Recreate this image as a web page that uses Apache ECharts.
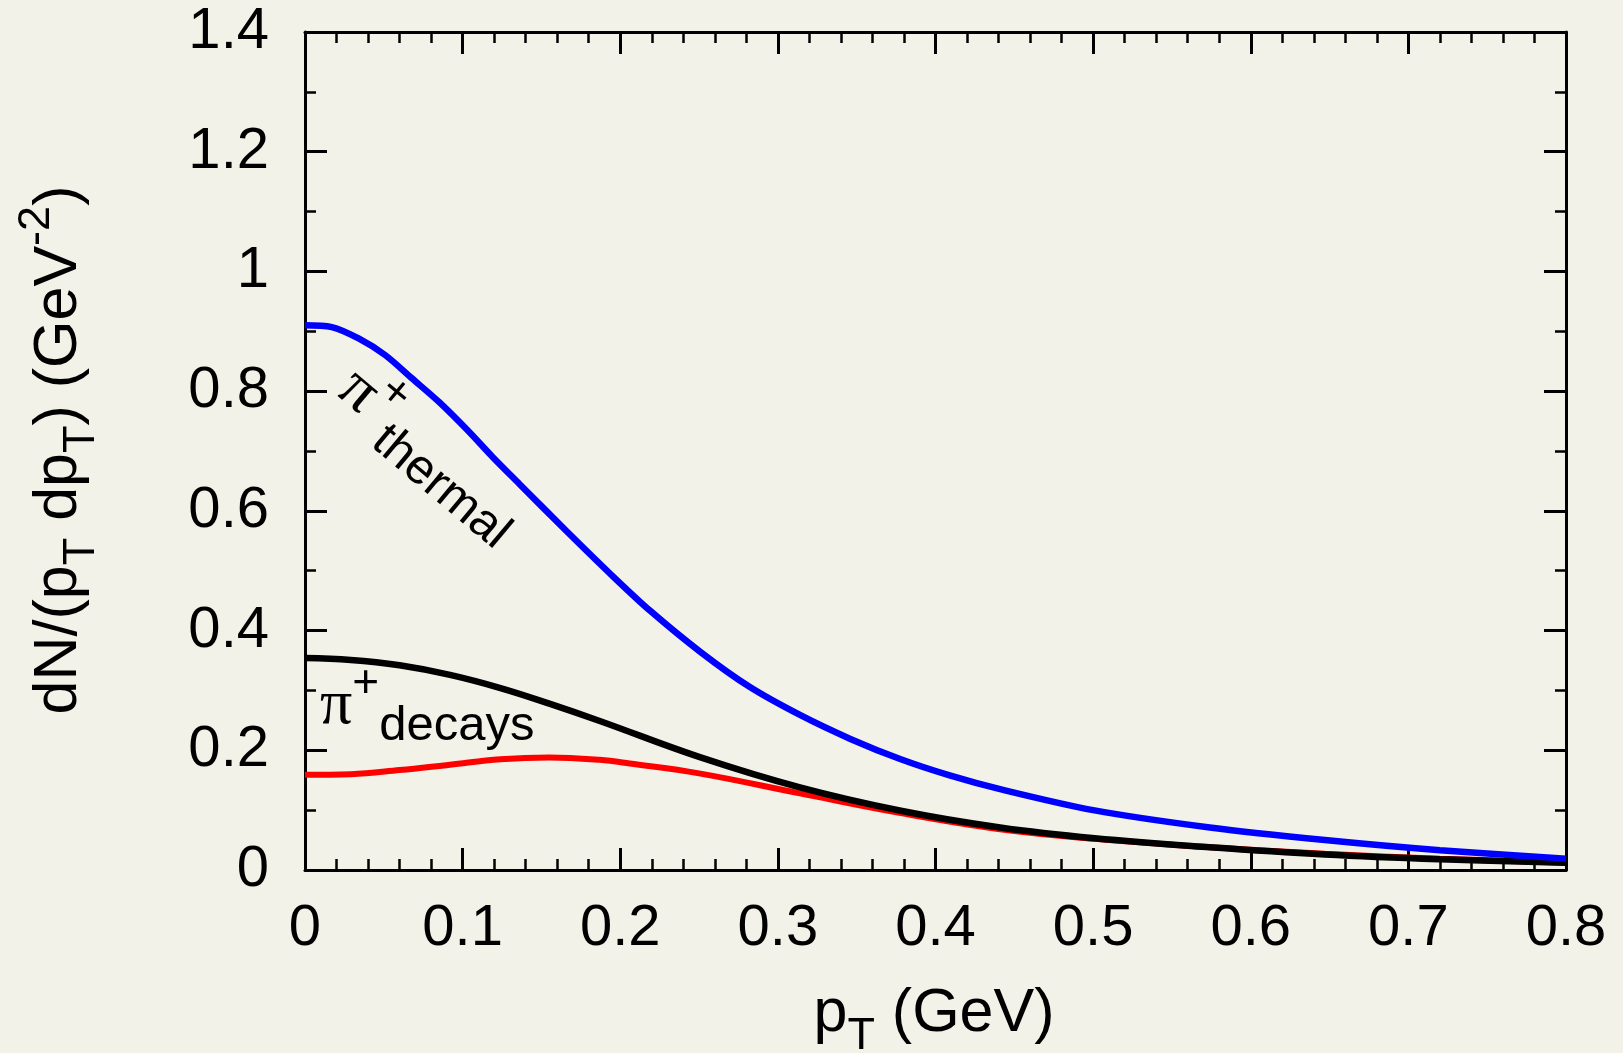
<!DOCTYPE html>
<html>
<head>
<meta charset="utf-8">
<title>pT spectra</title>
<script src="https://cdn.jsdelivr.net/npm/echarts@6/dist/echarts.min.js"></script>
<style>
  html, body { margin: 0; padding: 0; background: #f2f2e8; }
  #chart { width: 1623px; height: 1053px; }
</style>
</head>
<body>
<div id="chart"></div>
<script>
// pT (GeV) and dN/(pT dpT)
const thermalPt = [0, 0.017, 0.034, 0.051, 0.068, 0.085, 0.103, 0.119, 0.136, 0.166, 0.196, 0.219, 0.251, 0.282, 0.314, 0.346, 0.378, 0.409, 0.441, 0.50, 0.574, 0.647, 0.72, 0.8]
const thermalY = [0.910, 0.907, 0.888, 0.860, 0.821, 0.782, 0.735, 0.690, 0.645, 0.566, 0.489, 0.433, 0.364, 0.306, 0.259, 0.219, 0.185, 0.158, 0.135, 0.100, 0.071, 0.050, 0.033, 0.019]

const decaysPt = [0, 0.029, 0.06, 0.092, 0.124, 0.155, 0.187, 0.25, 0.314, 0.378, 0.441, 0.501, 0.574, 0.647, 0.72, 0.8]
const decaysY = [0.354, 0.351, 0.342, 0.326, 0.304, 0.278, 0.249, 0.189, 0.138, 0.099, 0.071, 0.053, 0.038, 0.026, 0.018, 0.012]

const redPt = [0, 0.029, 0.06, 0.092, 0.124, 0.155, 0.187, 0.206, 0.25, 0.314, 0.378, 0.441, 0.501, 0.574, 0.647, 0.72, 0.8]
const redY = [0.159, 0.160, 0.167, 0.176, 0.185, 0.188, 0.184, 0.178, 0.1615, 0.128, 0.095, 0.068, 0.052, 0.038, 0.027, 0.019, 0.012]

const xTicks = { min: 0, max: 0.8, step: 0.1 }
const yTicks = { min: 0, max: 1.4, step: 0.2 }

const pairs = (xs, ys) => xs.map((x, i) => [x, ys[i]])
const fmt = v => String(Math.round(v * 10) / 10)

const FONT = "'Liberation Sans', Arial, Helvetica, sans-serif"
const SERIF = "'Liberation Serif', 'Times New Roman', serif"

const chart = echarts.init(document.getElementById('chart'), null, { renderer: 'canvas' })

const axisBase = {
    type: 'value',
    splitLine: { show: false },
    axisLine: { show: true, onZero: false, lineStyle: { color: '#000', width: 3 } },
    axisTick: { show: true, inside: true, length: 22, lineStyle: { color: '#000', width: 3 } },
}

// rich styles for the sub/superscripts
const titleRich = {
    a: { fontFamily: FONT, fontSize: 61, lineHeight: 90, color: '#000' },
    s: { fontFamily: FONT, fontSize: 45, lineHeight: 45, verticalAlign: 'bottom', color: '#000' },
    u: { fontFamily: FONT, fontSize: 45, lineHeight: 45, verticalAlign: 'top', color: '#000' },
}
const labelRich = {
    p: { fontFamily: SERIF, fontSize: 64, lineHeight: 90, color: '#000' },
    u: { fontFamily: FONT, fontSize: 46, lineHeight: 46, verticalAlign: 'top', color: '#000' },
    s: { fontFamily: FONT, fontSize: 49, lineHeight: 49, verticalAlign: 'bottom', color: '#000' },
}

chart.setOption({
    animation: false,
    backgroundColor: '#f2f2e8',
    textStyle: { fontFamily: FONT },
    grid: { left: 305, right: 57, top: 32, bottom: 183, containLabel: false, outerBoundsMode: 'none' },
    xAxis: [
        {
            ...axisBase,
            position: 'bottom',
            min: xTicks.min, max: xTicks.max, interval: xTicks.step,
            minorTick: { show: true, splitNumber: 5, length: 11, lineStyle: { color: '#000', width: 2.5 } },
            axisLabel: { show: true, margin: 30, fontSize: 58, color: '#000', fontFamily: FONT, formatter: fmt },
        },
        {
            ...axisBase,
            position: 'top',
            min: xTicks.min, max: xTicks.max, interval: xTicks.step,
            minorTick: { show: true, splitNumber: 5, length: 11, lineStyle: { color: '#000', width: 2.5 } },
            axisLabel: { show: false },
        },
    ],
    yAxis: [
        {
            ...axisBase,
            position: 'left',
            min: yTicks.min, max: yTicks.max, interval: yTicks.step,
            minorTick: { show: true, splitNumber: 2, length: 11, lineStyle: { color: '#000', width: 2.5 } },
            axisLabel: { show: true, margin: 36, fontSize: 58, color: '#000', fontFamily: FONT, formatter: fmt },
        },
        {
            ...axisBase,
            position: 'right',
            min: yTicks.min, max: yTicks.max, interval: yTicks.step,
            minorTick: { show: true, splitNumber: 2, length: 11, lineStyle: { color: '#000', width: 2.5 } },
            axisLabel: { show: false },
        },
    ],
    series: [
        {
            name: 'red', type: 'line', z: 2, showSymbol: false, smooth: 0.4,
            lineStyle: { color: '#ff0000', width: 6 },
            data: pairs(redPt, redY),
        },
        {
            name: 'π+ decays', type: 'line', z: 3, showSymbol: false, smooth: 0.4,
            lineStyle: { color: '#000000', width: 6.5 },
            data: pairs(decaysPt, decaysY),
        },
        {
            name: 'π+ thermal', type: 'line', z: 4, showSymbol: false, smooth: 0.3,
            lineStyle: { color: '#0000ff', width: 6.5 },
            data: pairs(thermalPt, thermalY),
        },
    ],
    graphic: [
        {   // x axis title
            type: 'text', x: 934, y: 1014,
            style: { text: '{a|p}{s|T}{a| (GeV)}', rich: titleRich, align: 'center', verticalAlign: 'middle' },
        },
        {   // y axis title
            type: 'text', x: 59, y: 450, rotation: Math.PI / 2,
            style: { text: '{a|dN/(p}{s|T}{a| dp}{s|T}{a|) (GeV}{u|-2}{a|)}', rich: titleRich, align: 'center', verticalAlign: 'middle' },
        },
        {   // thermal label
            type: 'text', x: 346, y: 381, rotation: -40 * Math.PI / 180,
            style: { text: '{p|π}{u|+}{s|thermal}', rich: labelRich, align: 'left', verticalAlign: 'middle' },
        },
        {   // decays label
            type: 'text', x: 320, y: 706,
            style: { text: '{p|π}{u|+}{s|decays}', rich: labelRich, align: 'left', verticalAlign: 'middle' },
        },
    ],
})
</script>
</body>
</html>
